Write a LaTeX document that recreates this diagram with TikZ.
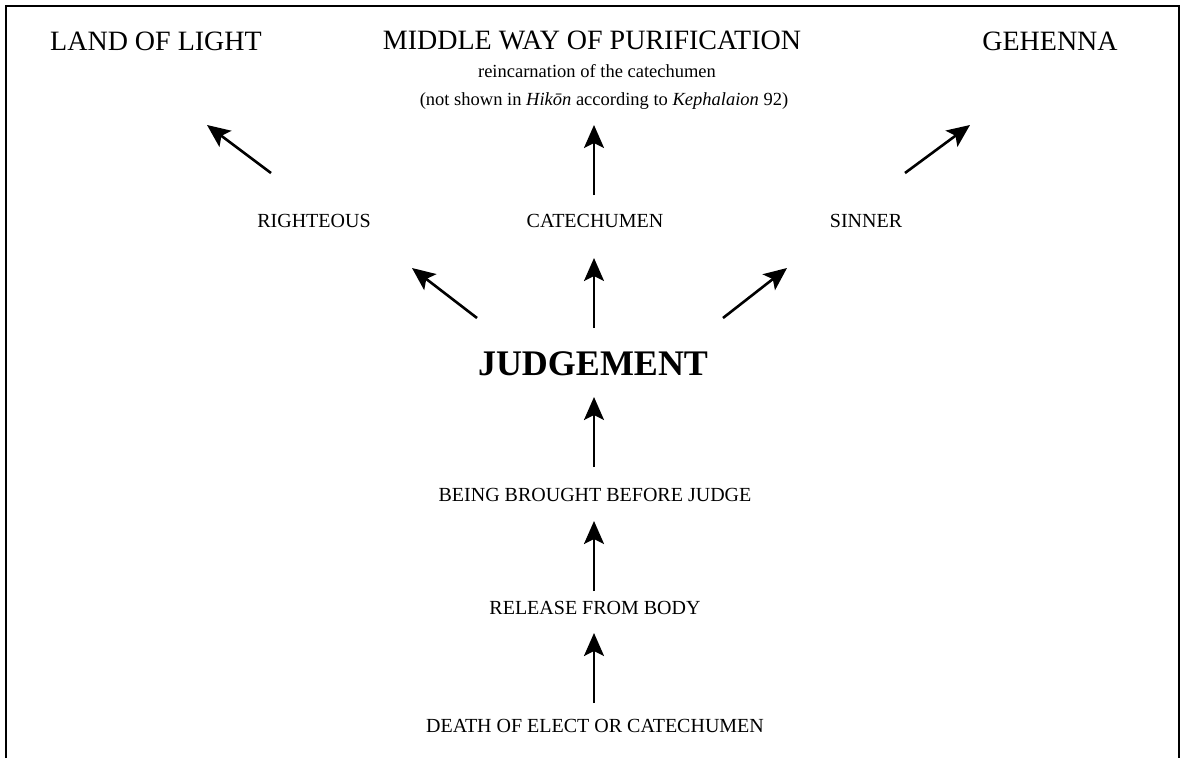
\documentclass[tikz,border=0pt]{standalone}
\usepackage{fontspec}
\setmainfont{Liberation Serif}
\usetikzlibrary{arrows.meta}
\tikzset{
  arr/.style={line width=2.6pt,-{Stealth[length=23pt,width=20pt,inset=5pt]}},
  head/.style={font=\fontsize{28}{32}\selectfont,anchor=base,inner sep=0pt},
  sub/.style={font=\fontsize{18.5}{22}\selectfont,anchor=base,inner sep=0pt},
  lvl/.style={font=\fontsize{20}{24}\selectfont,anchor=base,inner sep=0pt},
  big/.style={font=\fontsize{36}{40}\selectfont\bfseries,anchor=base,inner sep=0pt},
  frame/.style={line width=2pt}
}
\begin{document}
\begin{tikzpicture}[x=1pt,y=-1pt]
\useasboundingbox (0,0) rectangle (1182,758);
\draw[frame] (6,758) -- (6,6) -- (1179,6) -- (1179,758);
% headings
\node[head] (land) at (156,50) {LAND OF LIGHT};
\node[head] (middle) at (592,49) {MIDDLE WAY OF PURIFICATION};
\node[sub] (reinc) at (597,77) {reincarnation of the catechumen};
\node[sub] (note) at (604,105) {(not shown in \textit{Hikōn} according to \textit{Kephalaion} 92)};
\node[head] (gehenna) at (1050,50) {GEHENNA};
% level labels
\node[lvl] (righteous) at (314,227) {RIGHTEOUS};
\node[lvl] (catech) at (595,227) {CATECHUMEN};
\node[lvl] (sinner) at (866,227) {SINNER};
\node[big] (judge) at (593,375) {JUDGEMENT};
\node[lvl] (before) at (595,501) {BEING BROUGHT BEFORE JUDGE};
\node[lvl] (release) at (595,614) {RELEASE FROM BODY};
\node[lvl] (death) at (595,732) {DEATH OF ELECT OR CATECHUMEN};
% arrow end points
\coordinate (r1) at (271,173); \coordinate (r2) at (207,125);
\coordinate (c1) at (594,195); \coordinate (c2) at (594,125);
\coordinate (s1) at (905,173); \coordinate (s2) at (970,125);
\coordinate (jl1) at (477,318); \coordinate (jl2) at (412,268);
\coordinate (jm1) at (594,328); \coordinate (jm2) at (594,258);
\coordinate (jr1) at (723,318); \coordinate (jr2) at (787,268);
\coordinate (b1) at (594,467); \coordinate (b2) at (594,397);
\coordinate (e1) at (594,591); \coordinate (e2) at (594,521);
\coordinate (d1) at (594,703); \coordinate (d2) at (594,633);
% arrows
\draw[arr] (r1) -- (r2);
\draw[arr] (c1) -- (c2);
\draw[arr] (s1) -- (s2);
\draw[arr] (jl1) -- (jl2);
\draw[arr] (jm1) -- (jm2);
\draw[arr] (jr1) -- (jr2);
\draw[arr] (b1) -- (b2);
\draw[arr] (e1) -- (e2);
\draw[arr] (d1) -- (d2);
\end{tikzpicture}
\end{document}
